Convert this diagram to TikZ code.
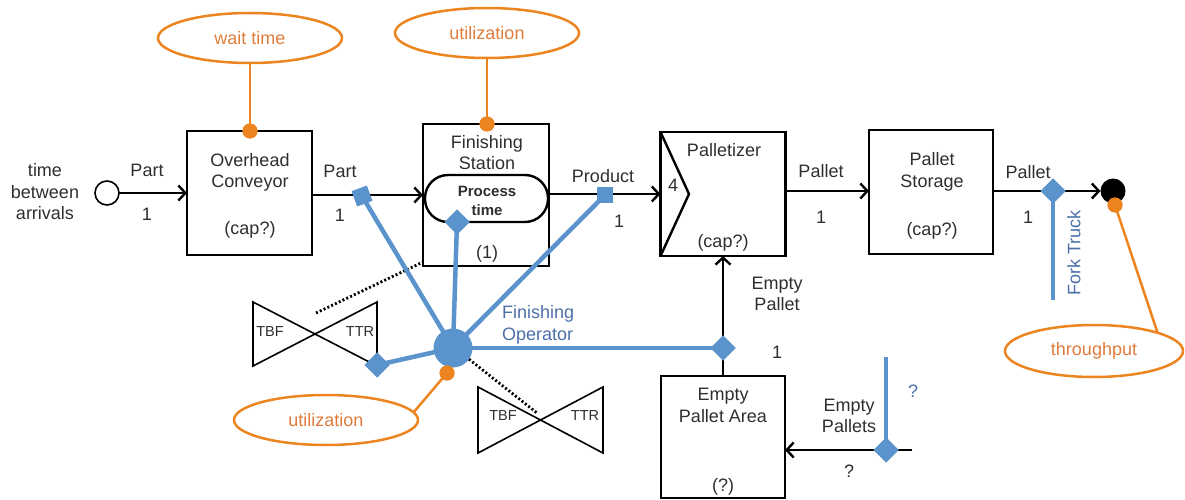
\documentclass[tikz,border=0pt]{standalone}
\usepackage{fontspec}
\setmainfont{Liberation Sans}
\usetikzlibrary{arrows.meta,shapes.geometric,calc}
\definecolor{fblue}{HTML}{5B93CC}
\definecolor{fblueT}{HTML}{4C6FA8}
\definecolor{forange}{HTML}{EC8420}
\definecolor{forangeT}{HTML}{DF7C3C}
\definecolor{txt}{HTML}{2E2E2E}
\begin{document}
\begin{tikzpicture}[x=1pt,y=-1pt,
  every node/.style={font=\fontsize{18}{21.5}\selectfont, text=txt, inner sep=0pt, outer sep=0pt},
  box/.style={draw=black, line width=2.4pt, rectangle},
  flow/.style={draw=black, line width=2.4pt, -{Straight Barb[length=7pt,width=15pt,line width=2.4pt]}},
  bl/.style={draw=fblue, line width=4.5pt},
  org/.style={draw=forange, line width=2.5pt},
  oval/.style={ellipse, draw=forange, line width=2.5pt, text=forangeT, minimum width=184pt, minimum height=50pt},
  odot/.style={circle, fill=forange, minimum size=15pt},
  bdia/.style={diamond, fill=fblue, minimum width=25pt, minimum height=25pt},
  bsq/.style={rectangle, fill=fblue, minimum size=16pt},
  small/.style={font=\fontsize{14.5}{17}\selectfont},
  dotl/.style={draw=black, line width=2.8pt, dash pattern=on 2pt off 2.2pt},
  bow/.style={draw=black, line width=1.6pt, line join=miter}
]
\useasboundingbox (0,0) rectangle (1185,500);

% ---------- boxes ----------
\node[box, minimum width=125pt, minimum height=124pt] (oc) at (249.5,193) {};
\node[box, minimum width=126pt, minimum height=142pt] (fs) at (486,195) {};
\node[box, minimum width=125pt, minimum height=124pt] (pz) at (723,194) {};
\node[box, minimum width=124pt, minimum height=124pt] (st) at (931,192) {};
\node[box, minimum width=124pt, minimum height=122pt] (epa) at (723,437) {};
\node[draw=black, line width=2.4pt, rounded corners=23pt, minimum width=123pt, minimum height=47pt] (pt) at (486.5,198.5) {};

% palletizer triangle
\draw[line width=2.4pt, line join=miter] (pz.north west) -- (689,194) -- (pz.south west);

% ---------- texts in boxes ----------
\node[align=center] (octx) at (250,172.5) {Overhead\\Conveyor};
\node (occ) at (250,230) {(cap?)};
\node[align=center] (fstx) at (487,152.5) {Finishing\\Station};
\node[align=center, font=\bfseries\fontsize{15}{18.5}\selectfont] (pttx) at (487,201) {Process\\time};
\node (fs1) at (487,254) {(1)};
\node (pz4) at (673,185) {4};
\node (pztx) at (724,150) {Palletizer};
\node (pzc) at (723,243) {(cap?)};
\node[align=center] (sttx) at (932,172) {Pallet\\Storage};
\node (stc) at (932,231) {(cap?)};
\node[align=center] (epatx) at (723,405.5) {Empty\\Pallet Area};
\node (epaq) at (723,487) {(?)};

% ---------- source and sink ----------
\node[circle, draw=black, line width=1.6pt, minimum size=24pt] (src) at (107,193) {};
\node[align=center] (tba) at (45,192) {time\\between\\arrivals};
\node[circle, fill=black, minimum size=25pt] (sink) at (1113,191) {};

% ---------- flows ----------
\draw[flow] (src.east) -- (src.east -| oc.west);
\node (l1) at (147,170) {Part};
\node (n1) at (147,214) {1};
\draw[flow] (oc.east |- 0,195) -- (fs.west);
\node (l2) at (340,171) {Part};
\node (n2) at (340,215) {1};
\draw[flow] (fs.east |- 0,194) -- (pz.west);
\node (l3) at (603,176) {Product};
\node (n3) at (619,221) {1};
\draw[flow] (pz.east |- 0,191) -- (st.west |- 0,191);
\node (l4) at (821,171) {Pallet};
\node (n4) at (821,217) {1};
\draw[flow] (st.east |- sink.west) -- (sink.west);
\node (l5) at (1028,172) {Pallet};
\node (n5) at (1028,217) {1};
\draw[flow] (epa.north) -- (pz.south);
\node[align=center] (l6) at (777,294) {Empty\\Pallet};
\node (n6) at (777,352) {1};
\coordinate (epin) at (912,450);
\draw[flow] (epin) -- (epin -| epa.east);
\node[align=center] (l7) at (849,416) {Empty\\Pallets};
\node (n7) at (849,471) {?};

% ---------- failures (bow ties) ----------
\draw[bow] (253,302) -- (377,366) -- (377,302) -- (253,366) -- cycle;
\node[small] (tbf1) at (270,332) {TBF};
\node[small] (ttr1) at (360,332) {TTR};
\draw[bow] (478,387) -- (603,453) -- (603,387) -- (478,453) -- cycle;
\node[small] (tbf2) at (503,416) {TBF};
\node[small] (ttr2) at (585,416) {TTR};
\coordinate (bt1) at (316,313);
\coordinate (fsc) at (423,262);
\draw[dotl] (bt1) -- (fsc);

% ---------- resource ----------
\coordinate (opc) at (453,348);
\node[bsq, rotate=20] (sq1) at (362,196) {};
\node[bdia] (d1) at (457,222) {};
\node[bsq] (sq2) at (605,195) {};
\node[bdia] (d2) at (377,365) {};
\node[bdia] (d3) at (723,348) {};
\draw[bl] (opc) -- (sq1.center);
\draw[bl] (opc) -- (d1.center);
\draw[bl] (opc) -- (sq2.center);
\draw[bl] (opc) -- (d2.center);
\draw[bl] (opc) -- (d3.center);
\node[bsq, rotate=20] at (sq1) {};
\node[bsq] at (sq2) {};
\node[bdia] at (d1) {};
\node[bdia] at (d2) {};
\node[bdia] at (d3) {};
\node[circle, fill=fblue, minimum size=39pt] (op) at (opc) {};
\node[align=left, anchor=west, text=fblueT] (optx) at (502,325) {Finishing\\Operator};
\coordinate (bt2) at (537,413);
\draw[dotl] (op.-35) -- (bt2);

% fork truck
\coordinate (ftb) at (1053,300);
\node[bdia] (ftd) at (1053,191) {};
\draw[bl] (ftb) -- (ftd.center);
\node[bdia] at (ftd) {};
\node[rotate=90, text=fblueT] (fttx) at (1074,253) {Fork Truck};

% empty pallets supply
\coordinate (ept) at (886,357);
\node[bdia] (epd) at (886,450) {};
\draw[bl] (ept) -- (epd.center);
\node[bdia] at (epd) {};
\node[text=fblueT] (epq) at (913,391) {?};

% ---------- statistics ----------
\node[oval] (wt) at (250,38) {wait time};
\node[oval] (ut1) at (487,33) {utilization};
\node[oval] (ut2) at (326,420) {utilization};
\node[oval, minimum width=178pt, minimum height=52pt] (thr) at (1094,351) {throughput};
\node[odot] (o1) at (250,131) {};
\node[odot] (o2) at (487,124) {};
\node[odot] (o3) at (447,373) {};
\node[odot] (o4) at (1115,205) {};
\draw[org] (wt.south) -- (o1.center);
\draw[org] (ut1.south) -- (o2.center);
\draw[org] (ut2.5) -- (o3.center);
\draw[org] (thr.16) -- (o4.center);
\node[odot] at (o1) {};
\node[odot] at (o2) {};
\node[odot] at (o3) {};
\node[odot] at (o4) {};
\end{tikzpicture}
\end{document}
